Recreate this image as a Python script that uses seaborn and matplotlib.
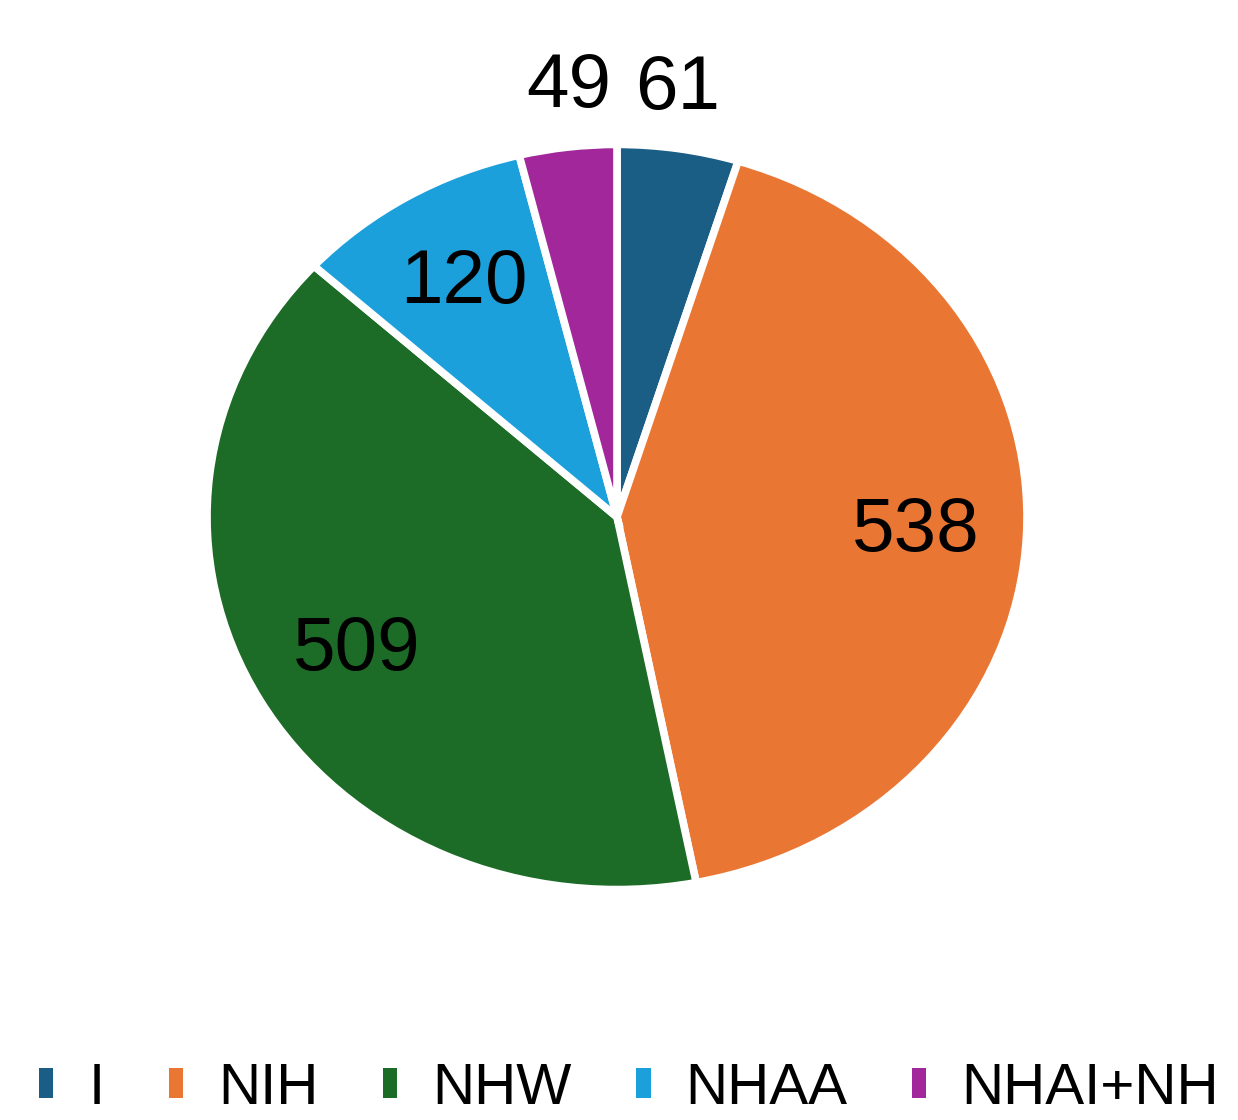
import matplotlib
matplotlib.use("Agg")
import matplotlib.pyplot as plt
import seaborn as sns
import numpy as np
from matplotlib.patches import Patch

sns.set_theme(style="white")
plt.rcParams['font.family'] = ['Liberation Sans', 'DejaVu Sans']

categories = ["I", "NIH", "NHW", "NHAA", "NHAI+NH"]
values = [61, 538, 509, 120, 49]
colors = ["#1a5d85", "#ea7634", "#1c6b27", "#1ba0dc", "#a1279b"]

fig = plt.figure(figsize=(12.38, 11.2), dpi=100)
ax = fig.add_axes([2/1238, 100/1120, 1230/1238, 1006/1120])
wedges, _ = ax.pie(values, colors=colors, startangle=90, counterclock=False,
                   wedgeprops=dict(edgecolor="white", linewidth=5.5))
ax.set_aspect('auto')
ax.set_xlim(-1.5, 1.5)
ax.set_ylim(-1.35, 1.35)
ax.axis('off')

total = sum(values)
for w, v in zip(wedges, values):
    ang = np.deg2rad((w.theta1 + w.theta2) / 2)
    r = 0.73 if v / total > 0.06 else 1.16
    x, y = r * np.cos(ang), r * np.sin(ang)
    if v / total <= 0.06:
        x *= 0.85
    ax.text(x, y, str(v), ha='center', va='center',
            fontsize=55, color='#000000')

handles = [Patch(facecolor=c, edgecolor='none') for c in colors]
fig.legend(handles, categories, loc='lower center', bbox_to_anchor=(0.508, -0.043),
           ncol=5, frameon=False, fontsize=42, handlelength=0.25, handleheight=0.42,
           handletextpad=0.6, columnspacing=1.1, labelcolor='#000000')

fig.savefig("out.png", dpi=100, facecolor="white")
